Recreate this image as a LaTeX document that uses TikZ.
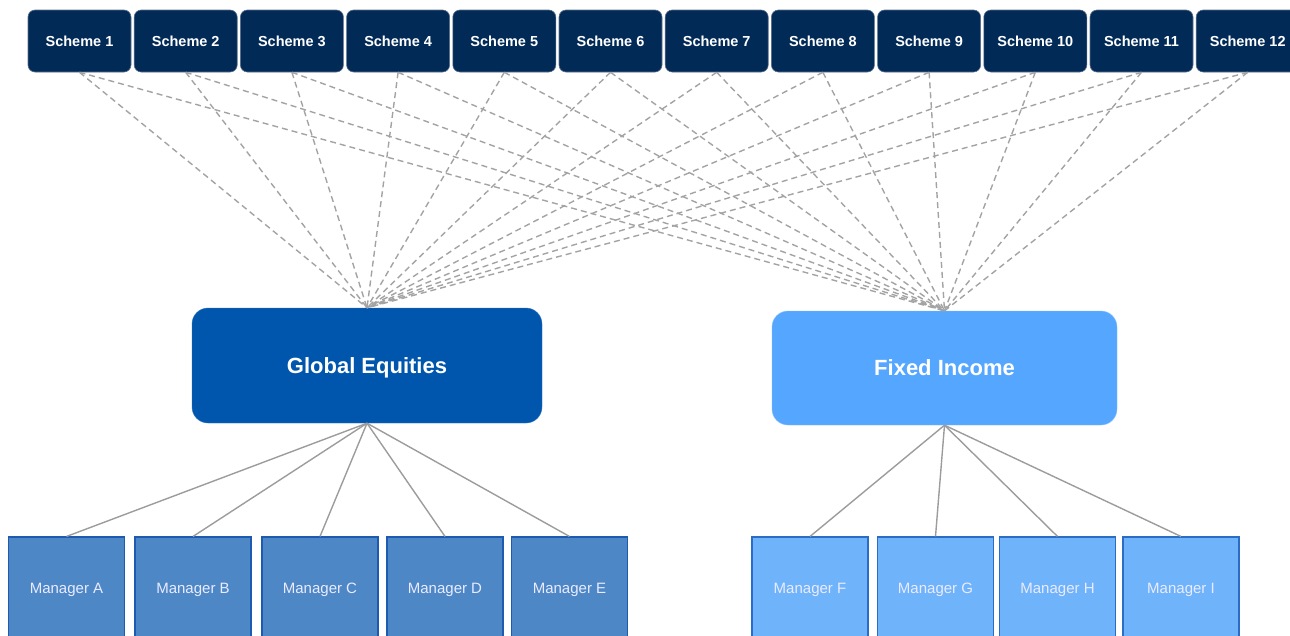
\documentclass[tikz,border=0pt]{standalone}
\usepackage{fontspec}
\setmainfont{Liberation Sans}
\definecolor{navy}{HTML}{022A57}
\definecolor{navyedge}{HTML}{5B6E8C}
\definecolor{geblue}{HTML}{0055AD}
\definecolor{fiblue}{HTML}{55A6FF}
\definecolor{gemgr}{HTML}{4D87C6}
\definecolor{gemgredge}{HTML}{1E5BB0}
\definecolor{fimgr}{HTML}{6FB3FA}
\definecolor{fimgredge}{HTML}{2B6CC4}
\definecolor{linkgrey}{HTML}{A3A3A3}
\definecolor{treegrey}{HTML}{9C9C9C}
\begin{document}
\begin{tikzpicture}[x=1pt,y=-1pt,
  scheme/.style={draw=navyedge, line width=0.6pt, fill=navy, rounded corners=7pt,
    minimum width=103pt, minimum height=62pt, inner sep=0pt,
    text height=10.4pt, text depth=0pt,
    text=white, font=\fontsize{14.5}{16}\selectfont\bfseries},
  assetclass/.style={rounded corners=16pt, inner sep=0pt, text=white,
    text height=15.8pt, text depth=0pt,
    font=\fontsize{22}{26}\selectfont\bfseries},
  manager/.style={line width=1.1pt, minimum width=116pt, minimum height=102pt,
    inner sep=0pt, text height=10.8pt, text depth=0pt,
    text=white!92!blue, font=\fontsize{15}{18}\selectfont},
  gemanager/.style={manager, draw=gemgredge, fill=gemgr},
  fimanager/.style={manager, draw=fimgredge, fill=fimgr},
  mandate/.style={draw=linkgrey, line width=1.4pt, dash pattern=on 6pt off 4pt},
  branch/.style={draw=treegrey, line width=1.4pt}]
\useasboundingbox (0,0) rectangle (1290,635);
\clip (0,0) rectangle (1290,635);

% asset class boxes
\node[assetclass, fill=geblue, draw=geblue!80!white, minimum width=350pt, minimum height=115pt]
  (ge) at (367,365.5) {Global Equities};
\node[assetclass, fill=fiblue, draw=fiblue!70!white, minimum width=345pt, minimum height=114pt]
  (fi) at (944.5,368) {Fixed Income};

% schemes along the top
\foreach \i in {1,...,12}
  \node[scheme] (s\i) at ({79.5+(\i-1)*106.2},41) {Scheme \i};

% every scheme invests in both asset classes
\foreach \i in {1,...,12} {
  \draw[mandate] (s\i.south) -- (ge.north);
  \draw[mandate] (s\i.south) -- (fi.north);
}

% managers
\node[gemanager] (ma) at (66.5,588) {Manager A};
\node[gemanager] (mb) at (193,588) {Manager B};
\node[gemanager] (mc) at (320,588) {Manager C};
\node[gemanager] (md) at (445,588) {Manager D};
\node[gemanager] (me) at (569.5,588) {Manager E};
\node[fimanager] (mf) at (810,588) {Manager F};
\node[fimanager] (mg) at (935.5,588) {Manager G};
\node[fimanager] (mh) at (1057.5,588) {Manager H};
\node[fimanager] (mi) at (1181,588) {Manager I};

\foreach \m in {ma,mb,mc,md,me}
  \draw[branch] (ge.south) -- (\m.north);
\foreach \m in {mf,mg,mh,mi}
  \draw[branch] (fi.south) -- (\m.north);
\end{tikzpicture}
\end{document}
